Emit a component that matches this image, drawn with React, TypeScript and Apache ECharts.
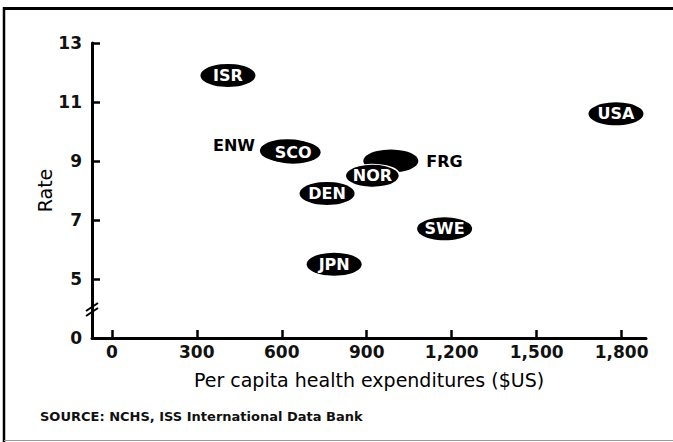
import { useEffect, useRef } from "react";
import * as echarts from "echarts";

// ---- Data ----
const countries = ["ENW", "SCO", "ISR", "USA", "FRG", "NOR", "DEN", "SWE", "JPN"];
const spending = [620, 640, 410, 1780, 985, 920, 760, 1175, 785];
const rates = [9.35, 9.3, 11.9, 10.6, 9.0, 8.5, 7.9, 6.7, 5.5];

const xTickValues = [0, 300, 600, 900, 1200, 1500, 1800];
const yTickValues = [5, 7, 9, 11, 13];
const yBreakValue = 3; // the axis is broken: this position carries the "0" label
const yBreakLabel = "0";

const xTitle = "Per capita health expenditures ($US)";
const yTitle = "Rate";
const sourceNote = "SOURCE: NCHS, ISS International Data Bank";

const FONT = "DejaVu Sans";

export default function App() {
  const ref = useRef<HTMLDivElement>(null);

  useEffect(() => {
    if (!ref.current) return;
    const chart = echarts.init(ref.current, undefined, { renderer: "svg" });

    const outsideSide: Record<string, string> = { ENW: "left", FRG: "right" };
    const outlined: Record<string, boolean> = { NOR: true };

    const data = countries.map((name, i) => {
      const side = outsideSide[name];
      const item: any = { name, value: [spending[i], rates[i]] };
      if (outlined[name]) {
        item.itemStyle = { borderColor: "#fff", borderWidth: 1.5 };
      }
      if (side) {
        item.label = {
          show: true,
          position: side,
          distance: side === "left" ? 5 : 8,
          offset: side === "left" ? [0, -5] : [0, 0],
          color: "#000",
          fontSize: 16,
          fontWeight: "bold",
          fontFamily: FONT,
        };
      }
      return item;
    });

    chart.setOption({
      animation: false,
      backgroundColor: "#fff",
      textStyle: { fontFamily: FONT },
      grid: { left: 92, right: 27, top: 43, bottom: 104 },
      xAxis: {
        type: "value",
        min: -70,
        max: 1886,
        name: xTitle,
        nameLocation: "middle",
        nameGap: 32,
        nameMoveOverlap: false,
        nameTextStyle: { fontSize: 19, color: "#000", fontFamily: FONT },
        axisLine: { show: true, onZero: false, lineStyle: { color: "#000", width: 3 } },
        axisTick: {
          show: true,
          inside: true,
          length: 8,
          customValues: xTickValues,
          lineStyle: { color: "#000", width: 2.5 },
        },
        axisLabel: {
          customValues: xTickValues,
          margin: 5,
          fontSize: 17,
          fontWeight: "bold",
          color: "#111",
          fontFamily: FONT,
          formatter: (v: number) => v.toLocaleString("en-US"),
        },
        splitLine: { show: false },
      },
      yAxis: {
        type: "value",
        min: yBreakValue,
        max: 13,
        name: yTitle,
        nameLocation: "middle",
        nameGap: 38,
        nameMoveOverlap: false,
        nameTextStyle: { fontSize: 19, color: "#000", fontFamily: FONT },
        axisLine: { show: true, onZero: false, lineStyle: { color: "#000", width: 3 } },
        axisTick: {
          show: true,
          inside: true,
          length: 8,
          customValues: yTickValues,
          lineStyle: { color: "#000", width: 2.5 },
        },
        axisLabel: {
          customValues: [yBreakValue, ...yTickValues],
          showMinLabel: true,
          margin: 10,
          fontSize: 17,
          fontWeight: "bold",
          color: "#111",
          fontFamily: FONT,
          formatter: (v: number) => (v === yBreakValue ? yBreakLabel : String(v)),
        },
        splitLine: { show: false },
      },
      series: [
        {
          type: "scatter",
          symbol: "circle",
          symbolSize: [55, 23],
          itemStyle: { color: "#000", borderWidth: 0, opacity: 1 },
          label: {
            show: true,
            position: "inside",
            formatter: "{b}",
            color: "#fff",
            fontSize: 16,
            fontWeight: "bold",
            fontFamily: FONT,
          },
          emphasis: { disabled: true },
          data,
        },
      ],
      graphic: [
        // frame
        { type: "line", shape: { x1: 3, y1: 8.5, x2: 673, y2: 8.5 }, style: { stroke: "#000", lineWidth: 3 } },
        { type: "line", shape: { x1: 4, y1: 7, x2: 4, y2: 442 }, style: { stroke: "#000", lineWidth: 2.5 } },
        { type: "line", shape: { x1: 4, y1: 440.5, x2: 673, y2: 440.5 }, style: { stroke: "#999", lineWidth: 1 } },
        // axis break marks
        { type: "line", shape: { x1: 86, y1: 311, x2: 98, y2: 303 }, style: { stroke: "#000", lineWidth: 2 } },
        { type: "line", shape: { x1: 86, y1: 316, x2: 98, y2: 308 }, style: { stroke: "#000", lineWidth: 2 } },
        {
          type: "text",
          x: 40,
          y: 416,
          style: {
            text: sourceNote,
            font: `bold 13px "${FONT}"`,
            fill: "#111",
            verticalAlign: "middle",
          },
        },
      ],
    });

    return () => chart.dispose();
  }, []);

  return (
    <div
      ref={ref}
      style={{ position: "absolute", left: 0, top: 0, width: 673, height: 442 }}
    />
  );
}
